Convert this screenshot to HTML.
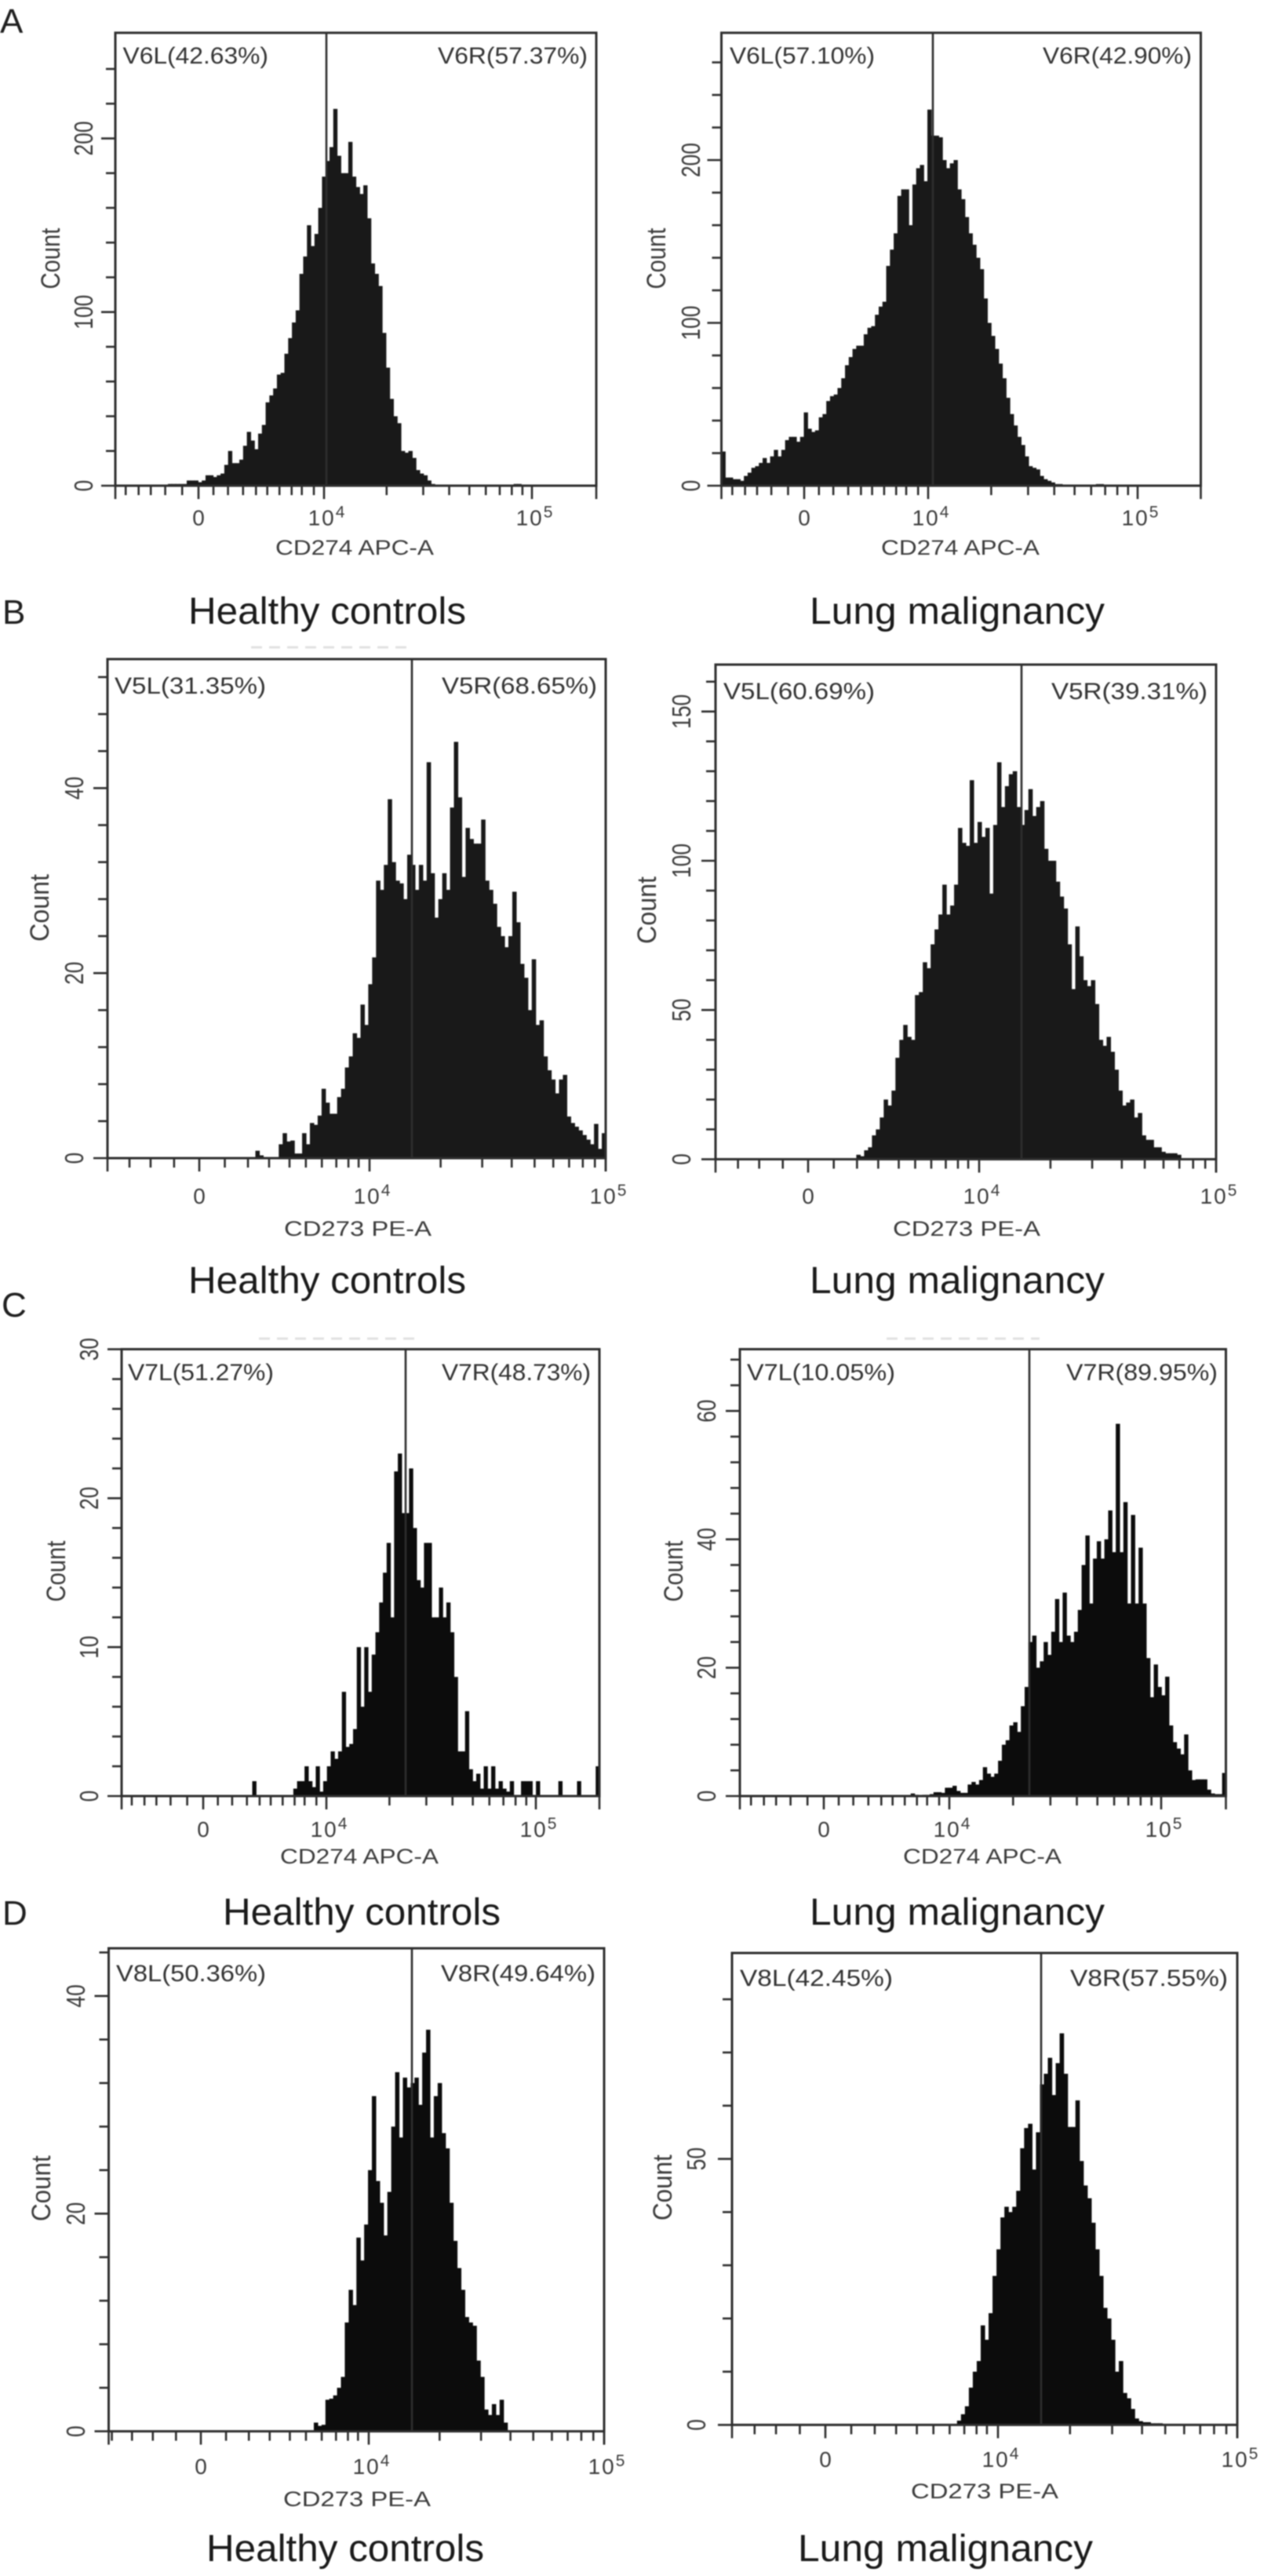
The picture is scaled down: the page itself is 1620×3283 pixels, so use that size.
<!DOCTYPE html>
<html lang="en">
<head>
<meta charset="utf-8">
<title>Flow cytometry histograms</title>
<style>
html,body{margin:0;padding:0;background:#fff;}
#figure{display:block;width:1620px;height:3283px;filter:blur(0.9px);font-family:"Liberation Sans",sans-serif;}
.big{font-size:48px;fill:#1a1a1a;}
.letter{font-size:44px;fill:#1f1f1f;}
.gate-label{font-size:30px;fill:#333;}
.x-title{font-size:27px;fill:#3c3c3c;}
.count-title{font-size:34px;fill:#3c3c3c;}
</style>
</head>
<body>
<svg id="figure" xmlns="http://www.w3.org/2000/svg" width="1620" height="3283" viewBox="0 0 1620 3283">
<rect x="0" y="0" width="1620" height="3283" fill="#fff"/>

<line x1="320" x2="522" y1="825" y2="825" stroke="#e2e2e2" stroke-width="3" stroke-dasharray="14 9"/>
<line x1="330" x2="532" y1="1706" y2="1706" stroke="#e2e2e2" stroke-width="3" stroke-dasharray="14 9"/>
<line x1="1130" x2="1325" y1="1706" y2="1706" stroke="#e2e2e2" stroke-width="3" stroke-dasharray="14 9"/>

<text class="letter" x="0" y="42">A</text>
<text class="letter" x="3" y="795">B</text>
<text class="letter" x="2" y="1678">C</text>
<text class="letter" x="3" y="2453">D</text>

<text class="big" x="240" y="795" textLength="354" lengthAdjust="spacingAndGlyphs">Healthy controls</text>
<text class="big" x="1032" y="795" textLength="376" lengthAdjust="spacingAndGlyphs">Lung malignancy</text>
<text class="big" x="240" y="1648" textLength="354" lengthAdjust="spacingAndGlyphs">Healthy controls</text>
<text class="big" x="1032" y="1648" textLength="376" lengthAdjust="spacingAndGlyphs">Lung malignancy</text>
<text class="big" x="284" y="2453" textLength="354" lengthAdjust="spacingAndGlyphs">Healthy controls</text>
<text class="big" x="1032" y="2453" textLength="376" lengthAdjust="spacingAndGlyphs">Lung malignancy</text>
<text class="big" x="263" y="3264" textLength="354" lengthAdjust="spacingAndGlyphs">Healthy controls</text>
<text class="big" x="1017" y="3264" textLength="376" lengthAdjust="spacingAndGlyphs">Lung malignancy</text>

<g id="plot-a-healthy"></g>
<g id="plot-a-lung"></g>
<g id="plot-b-healthy"></g>
<g id="plot-b-lung"></g>
<g id="plot-c-healthy"></g>
<g id="plot-c-lung"></g>
<g id="plot-d-healthy"></g>
<g id="plot-d-lung"></g>

<!-- gate labels -->
<text class="gate-label" x="156.5" y="81" textLength="185.5" lengthAdjust="spacingAndGlyphs">V6L(42.63%)</text>
<text class="gate-label" x="558" y="81" textLength="191" lengthAdjust="spacingAndGlyphs">V6R(57.37%)</text>
<text class="gate-label" x="930" y="81" textLength="185" lengthAdjust="spacingAndGlyphs">V6L(57.10%)</text>
<text class="gate-label" x="1329" y="81" textLength="190" lengthAdjust="spacingAndGlyphs">V6R(42.90%)</text>
<text class="gate-label" x="146" y="884" textLength="193" lengthAdjust="spacingAndGlyphs">V5L(31.35%)</text>
<text class="gate-label" x="563" y="884" textLength="198" lengthAdjust="spacingAndGlyphs">V5R(68.65%)</text>
<text class="gate-label" x="922" y="891" textLength="193" lengthAdjust="spacingAndGlyphs">V5L(60.69%)</text>
<text class="gate-label" x="1340" y="891" textLength="199" lengthAdjust="spacingAndGlyphs">V5R(39.31%)</text>
<text class="gate-label" x="163" y="1759" textLength="186" lengthAdjust="spacingAndGlyphs">V7L(51.27%)</text>
<text class="gate-label" x="563" y="1759" textLength="190" lengthAdjust="spacingAndGlyphs">V7R(48.73%)</text>
<text class="gate-label" x="952" y="1759" textLength="189" lengthAdjust="spacingAndGlyphs">V7L(10.05%)</text>
<text class="gate-label" x="1359" y="1759" textLength="193" lengthAdjust="spacingAndGlyphs">V7R(89.95%)</text>
<text class="gate-label" x="148" y="2525" textLength="191" lengthAdjust="spacingAndGlyphs">V8L(50.36%)</text>
<text class="gate-label" x="562" y="2525" textLength="197" lengthAdjust="spacingAndGlyphs">V8R(49.64%)</text>
<text class="gate-label" x="943" y="2531" textLength="195" lengthAdjust="spacingAndGlyphs">V8L(42.45%)</text>
<text class="gate-label" x="1364" y="2531" textLength="201" lengthAdjust="spacingAndGlyphs">V8R(57.55%)</text>

<!-- x axis titles -->
<text class="x-title" x="351" y="707" textLength="202" lengthAdjust="spacingAndGlyphs">CD274 APC-A</text>
<text class="x-title" x="1123" y="707" textLength="202" lengthAdjust="spacingAndGlyphs">CD274 APC-A</text>
<text class="x-title" x="362" y="1575" textLength="188" lengthAdjust="spacingAndGlyphs">CD273 PE-A</text>
<text class="x-title" x="1138" y="1575" textLength="188" lengthAdjust="spacingAndGlyphs">CD273 PE-A</text>
<text class="x-title" x="357" y="2375" textLength="202" lengthAdjust="spacingAndGlyphs">CD274 APC-A</text>
<text class="x-title" x="1151" y="2375" textLength="202" lengthAdjust="spacingAndGlyphs">CD274 APC-A</text>
<text class="x-title" x="361" y="3194" textLength="188" lengthAdjust="spacingAndGlyphs">CD273 PE-A</text>
<text class="x-title" x="1161" y="3184" textLength="188" lengthAdjust="spacingAndGlyphs">CD273 PE-A</text>

<!-- y axis titles -->
<text class="count-title" transform="translate(76,329.5) rotate(-90)" text-anchor="middle" textLength="78" lengthAdjust="spacingAndGlyphs">Count</text>
<text class="count-title" transform="translate(848,329.5) rotate(-90)" text-anchor="middle" textLength="78" lengthAdjust="spacingAndGlyphs">Count</text>
<text class="count-title" transform="translate(62,1157) rotate(-90)" text-anchor="middle" textLength="86" lengthAdjust="spacingAndGlyphs">Count</text>
<text class="count-title" transform="translate(836,1160) rotate(-90)" text-anchor="middle" textLength="86" lengthAdjust="spacingAndGlyphs">Count</text>
<text class="count-title" transform="translate(83,2002.5) rotate(-90)" text-anchor="middle" textLength="78" lengthAdjust="spacingAndGlyphs">Count</text>
<text class="count-title" transform="translate(870,2002.5) rotate(-90)" text-anchor="middle" textLength="78" lengthAdjust="spacingAndGlyphs">Count</text>
<text class="count-title" transform="translate(64,2789) rotate(-90)" text-anchor="middle" textLength="84" lengthAdjust="spacingAndGlyphs">Count</text>
<text class="count-title" transform="translate(856,2788) rotate(-90)" text-anchor="middle" textLength="84" lengthAdjust="spacingAndGlyphs">Count</text>
</svg>

<script>
// ---- histogram counts per bin (128 channels over the plot width) ----
const countsAHealthy = [1,1,1,1,1,3,3,3,2,3,6,6,5,6,7,12,20,13,13,15,23,31,26,21,30,35,48,52,56,64,65,76,85,94,101,122,132,150,138,145,160,178,187,195,217,190,180,180,198,178,172,168,173,154,128,122,115,88,68,50,40,36,20,19,20,16,9,7,6,3,1,0,0,0,0,0,0,0,0,0,0,0,0,0,0,0,0,0,0,0,0,0,1,1];
const startAHealthy = 14;
const countsALung = [21,5,5,4,4,3,6,8,11,12,14,17,14,18,22,18,22,28,30,30,27,30,45,35,33,34,42,44,52,55,56,60,66,74,79,84,86,86,93,97,98,105,110,113,135,145,155,178,182,182,160,185,195,197,187,231,215,215,214,200,195,198,200,182,176,165,155,148,140,133,115,100,92,84,75,66,54,44,37,30,25,18,12,11,10,6,4,3,2,1,1,0,0,0,0,0,0,0,0,0,1,1];
const startALung = 0;
const countsBHealthy = [0.8,0.3,0,0,0,0,1.5,2.7,1.8,1.9,0.5,0.5,2.7,1.5,3.8,3.6,4.6,7.5,6,4.8,4.8,6.6,7.5,9.8,11,13.5,13,16.6,14.4,18.8,21.7,30,29,31.7,38.8,32,30,29.7,28,32.8,31.7,29,31.7,30,42.8,30.8,26,28,30.8,29,37.9,45,39,30.4,35.7,34.5,34,34,36.6,30,29,27.5,25,24,22.8,24,28.8,25.5,21,19.5,16,21.5,14.4,14.9,11,9.5,8.5,7,8.5,9,4.5,3.8,3.4,3,2.5,2,1.5,3.7,1,2.7];
const startBHealthy = 38;
const countsBLung = [1.5,1,3,4,8,10,14,20,18,23,34,40,45,41,40,55,56,66,64,72,77,82,92,82,85,92,111,106,105,127,106,113,108,111,89,112,133,118,125,129,130,118,112,117,124,115,118,120,104,100,100,93,88,84,72,57,78,68,60,58,60,52,40,38,41,36,30,23,18,19,20,14,15.5,8,6.5,6.5,4,4,2.5,2,2,2,1.5];
const startBLung = 36;
const countsCHealthy = [1,0,0,0,0,0,0,0,0,0,0,0.5,1,1,2,1,0.6,2,0.3,1,2,3,2.5,3,7,3.3,3.5,4.5,10,6,10,7,9.5,11,13,15,17,12,21.8,23,19,19,22,18,14.5,14,17,17,12,12,14,12,13,11,8,3,3,5.7,1.8,1,1.5,0.5,2,0.5,2,0.5,1,0.5,0.3,1,0,0,1,1,1,0,1,0,0,0,0,0,1,0,0,0,0,1,0,0,0,0,2];
const startCHealthy = 35;
const countsCLung = [0.4,0.2,0,0.2,0.2,0.3,0.6,0.6,0.5,1.3,1.3,1.6,0.8,0.5,0.5,1.8,2.2,1.8,2.5,4.5,3.5,3,3.5,5.5,8,8.7,11,11.5,10,14,17,24,25,20,21,24,22,25.6,30.7,24,31.7,25,24,25.6,29,36,40.6,30,37,39.7,37,40,44.5,38,58,38,45.8,30,43.8,30,38.7,30,21.5,15.4,20.5,17,15.7,18.6,11,8.4,7.4,6.5,9.6,4,2.5,2.6,2.6,2.6,1,0.4,0.3,0.3,3.6];
const startCLung = 45;
const countsDHealthy = [0.8,0.5,0.6,2.9,3,3.3,4,5,10,13,11.6,17.8,15.7,19,24,30.8,23,21,18,22,28,33,27,32.5,31.6,32,32.5,30,34.8,36.9,27,30.8,32,27.4,26,21,17.5,15,13,10.5,10,9.7,6.5,5,2,1.5,2.5,1.5,2.9,0.8];
const startDHealthy = 53;
const countsDLung = [0.8,2,3.5,7,10,12,18.7,16,21,28,33,39,41,40,41,44,52,55.8,56.6,48,55,64,66,69,62,68,73.6,66,56,56,61,49.6,45,42.6,38,33,28,22,20,16,10,12,6,5,3,1.2,0.7,0.5,0.5,0.3,0.3,0.3,0,0,0,0.2,0,0.2];
const startDLung = 57;

// ---- tick values and tick labels ----
const binCount = 128;
const xLabelBases = ['0','10','10'];
const xLabelExponents = ['','4','5'];
const decadeMinorMultipliers = [2,3,4,5,6,7,8,9];
const apcLinearMinorFractions = [0.119,0.235,0.355,0.458,0.548,0.645,0.742,0.823,0.919];
const apcNegativeMinorFractions = [0.13,0.265,0.38,0.477,0.58];
const peLinearMinorFractions = [0.15,0.286,0.41,0.53,0.626,0.72,0.805,0.876,0.936];
const peNegativeMinorFractions = [0.148,0.286,0.41,0.53];

// ---- panel frames and axis calibration (layout only, no data) ----
const panelFrames = [
 {id:'a-healthy',counts:countsAHealthy,start:startAHealthy,ink:'#191919',L:147,R:760,T:41.8,B:619,gate:416,pxPerCount:2.213,major:100,minor:20,yMaxTick:240,x0:253,x4:413,x5:678,yLab:118,xLabY:669.5,pos:apcLinearMinorFractions,neg:apcNegativeMinorFractions},
 {id:'a-lung',counts:countsALung,start:startALung,ink:'#191919',L:919.5,R:1530.5,T:41.8,B:619,gate:1189,pxPerCount:2.075,major:100,minor:20,yMaxTick:260,x0:1025,x4:1183,x5:1450,yLab:892,xLabY:669.5,pos:apcLinearMinorFractions,neg:apcNegativeMinorFractions},
 {id:'b-healthy',counts:countsBHealthy,start:startBHealthy,ink:'#191919',L:137,R:772,T:840,B:1476,gate:525,pxPerCount:11.79,major:20,minor:4,yMaxTick:52,x0:254,x4:471,x5:772,yLab:106,xLabY:1534,pos:peLinearMinorFractions,neg:peNegativeMinorFractions},
 {id:'b-lung',counts:countsBLung,start:startBLung,ink:'#191919',L:912,R:1550,T:847,B:1477.4,gate:1302,pxPerCount:3.804,major:50,minor:10,yMaxTick:160,x0:1030,x4:1248,x5:1550,yLab:880,xLabY:1534,pos:peLinearMinorFractions,neg:peNegativeMinorFractions},
 {id:'c-healthy',counts:countsCHealthy,start:startCHealthy,ink:'#0c0c0c',L:155,R:764,T:1719.5,B:2289,gate:517,pxPerCount:18.98,major:10,minor:2,yMaxTick:30,x0:259,x4:416,x5:683,yLab:125,xLabY:2341,pos:apcLinearMinorFractions,neg:apcNegativeMinorFractions},
 {id:'c-lung',counts:countsCLung,start:startCLung,ink:'#0c0c0c',L:943,R:1562.5,T:1719.5,B:2289,gate:1312,pxPerCount:8.18,major:20,minor:4,yMaxTick:68,x0:1050,x4:1210,x5:1480,yLab:912,xLabY:2341,pos:apcLinearMinorFractions,neg:apcNegativeMinorFractions},
 {id:'d-healthy',counts:countsDHealthy,start:startDHealthy,ink:'#0c0c0c',L:138.5,R:770,T:2483,B:3098.6,gate:525,pxPerCount:13.87,major:20,minor:4,yMaxTick:44,x0:256,x4:470,x5:770,yLab:108,xLabY:3153,pos:peLinearMinorFractions,neg:peNegativeMinorFractions},
 {id:'d-lung',counts:countsDLung,start:startDLung,ink:'#0c0c0c',L:933,R:1577,T:2489,B:3090.4,gate:1327,pxPerCount:6.78,major:50,minor:10,yMaxTick:80,x0:1052,x4:1272,x5:1577,yLab:899,xLabY:3144,pos:peLinearMinorFractions,neg:peNegativeMinorFractions}
];

const NS = 'http://www.w3.org/2000/svg';
const inkAxis = '#2e2e2e';

function svgEl(tag, parent, attrs){
  const node = document.createElementNS(NS, tag);
  for (const k in attrs) node.setAttribute(k, attrs[k]);
  parent.appendChild(node);
  return node;
}

function drawPanel(p){
  const g = document.getElementById('plot-' + p.id);
  const binWidth = (p.R - p.L) / binCount;
  const xBin = i => p.L + i * binWidth;
  const yCount = c => p.B - c * p.pxPerCount;
  const xDecade = m => p.x4 + (p.x5 - p.x4) * Math.log10(m);
  const xLinear = f => p.x0 + (p.x4 - p.x0) * f;

  p.counts.forEach((c, k) => {
    if (c <= 0) return;
    const el = svgEl('rect', g, {x: xBin(p.start + k), y: yCount(c), width: binWidth + 0.6, height: c * p.pxPerCount, fill: p.ink});
    
    
  });

  const frame = svgEl('rect', g, {x: p.L, y: p.T, width: p.R - p.L, height: p.B - p.T, fill: 'none', stroke: inkAxis, 'stroke-width': 3});
  
  

  const gate = svgEl('line', g, {x1: p.gate, x2: p.gate, y1: p.T, y2: p.B, stroke: inkAxis, 'stroke-width': 2.6});
  
  

  // y ticks
  for (let v = 0; v <= p.yMaxTick + 0.001; v += p.minor) {
    const isMajor = Math.abs(v / p.major - Math.round(v / p.major)) < 1e-6;
    const len = isMajor ? 18 : 12;
    const tick = svgEl('line', g, {x1: p.L - len, x2: p.L, y1: yCount(v), y2: yCount(v), stroke: inkAxis, 'stroke-width': 2.6});
    
    
    if (isMajor && yCount(v) >= p.T - 1) {
      const s = String(Math.round(v));
      const lab = svgEl('text', g, {transform: 'translate(' + p.yLab + ',' + yCount(v) + ') rotate(-90)', 'text-anchor': 'middle', 'font-size': 33, fill: '#3c3c3c', textLength: 14.7 * s.length, lengthAdjust: 'spacingAndGlyphs'});
      
      
      lab.textContent = s;
    }
  }

  // x ticks
  const xTick = (x, len) => {
    const t = svgEl('line', g, {x1: x, x2: x, y1: p.B, y2: p.B + len, stroke: inkAxis, 'stroke-width': 2.6});
    
    
  };
  [p.L, p.x0, p.x4, p.x5, p.R].forEach(x => xTick(x, 17));
  p.pos.forEach(f => xTick(xLinear(f), 12));
  p.neg.forEach(f => { if (xLinear(-f) > p.L + 3) xTick(xLinear(-f), 12); });
  decadeMinorMultipliers.forEach(m => xTick(xDecade(m), 12));

  const labelXs = [p.x0, p.x4, p.x5];
  xLabelBases.forEach((base, i) => {
    const lab = svgEl('text', g, {x: labelXs[i] + (i ? 4 : 0), y: p.xLabY, 'text-anchor': 'middle', 'font-size': 28, fill: '#3c3c3c', 'letter-spacing': i ? 2 : 0});
    
    
    lab.textContent = base;
    if (xLabelExponents[i]) {
      const sup = svgEl('tspan', lab, {dy: -10, 'font-size': 21});
      
      
      sup.textContent = xLabelExponents[i];
    }
  });
}

panelFrames.forEach(drawPanel);
</script>
</body>
</html>
